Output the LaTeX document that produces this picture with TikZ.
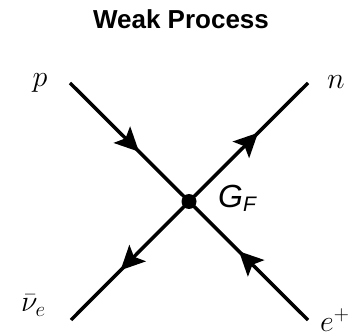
\RequirePackage{fix-cm}
\documentclass[tikz,border=0pt]{standalone}
\usepackage{fontspec}
\newfontfamily\helv{Liberation Sans}
\usetikzlibrary{arrows.meta,decorations.markings}
\begin{document}
\begin{tikzpicture}[x=1pt,y=1pt,
  fermion/.style={line width=3.5pt,
    postaction={decorate,decoration={markings,
      mark=at position 0.58 with {\arrow{Stealth[length=24pt,width=23pt,inset=5pt]}}}}},
  mathlabel/.style={inner sep=0pt,font=\fontsize{30}{36}\selectfont},
  vtx/.style={circle,fill=black,inner sep=0pt,minimum size=15pt}]
\useasboundingbox (0,0) rectangle (356,332);
\coordinate (P) at (70,249);
\coordinate (N) at (308,249);
\coordinate (NU) at (71,12);
\coordinate (E) at (308,12);
\coordinate (V) at (189,130.5);
\draw[fermion] (P) -- (V);
\draw[fermion] (V) -- (N);
\draw[fermion] (V) -- (NU);
\draw[fermion] (E) -- (V);
\node[vtx] (dot) at (V) {};
\node[anchor=base,inner sep=0pt,font=\helv\bfseries\fontsize{26}{30}\selectfont] (title) at (181,303) {Weak Process};
\node[mathlabel,anchor=base] (lp) at (40,245.5) {$p$};
\node[mathlabel,anchor=base] (ln) at (336,243) {$n$};
\node[mathlabel,anchor=base west] (lnu) at (21,20) {$\bar\nu_e$};
\node[mathlabel,anchor=base west] (le) at (320,1) {$e^+$};
\node[anchor=base west,inner sep=0pt,font=\helv\itshape\fontsize{32}{36}\selectfont] (gf) at (218,124) {G\raisebox{-3.5pt}{\fontsize{21}{24}\selectfont F}};
\end{tikzpicture}
\end{document}
